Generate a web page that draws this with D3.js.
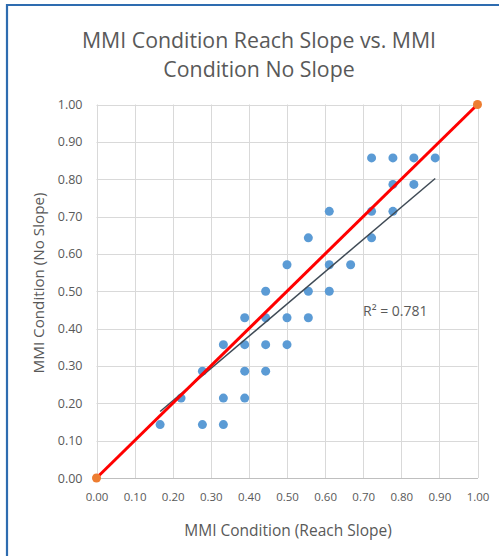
<!DOCTYPE html>
<html>
<head>
<meta charset="utf-8">
<script src="https://cdn.jsdelivr.net/npm/d3@7/dist/d3.min.js"></script>
<style>
  html, body { margin: 0; padding: 0; background: #ffffff; }
  svg { display: block; }
  text { font-family: "Open Sans", "Noto Sans", sans-serif; }
</style>
</head>
<body>
<svg id="chart" width="499" height="556"></svg>
<script>
// ---- Data ----
const titleLines = ["MMI Condition Reach Slope vs. MMI", "Condition No Slope"];
const xAxisTitle = "MMI Condition (Reach Slope)";
const yAxisTitle = "MMI Condition (No Slope)";
const r2Label = "R\u00B2 = 0.781";

const tickValues = [0.0, 0.1, 0.2, 0.3, 0.4, 0.5, 0.6, 0.7, 0.8, 0.9, 1.0];

// MMI Condition (Reach Slope)
const reachSlope = [0.167, 0.222, 0.278, 0.278, 0.333, 0.333, 0.333, 0.389, 0.389, 0.389, 0.389,
  0.444, 0.444, 0.444, 0.444, 0.500, 0.500, 0.500, 0.556, 0.556, 0.556, 0.611, 0.611, 0.611,
  0.667, 0.722, 0.722, 0.722, 0.778, 0.778, 0.778, 0.833, 0.833, 0.889];
// MMI Condition (No Slope)
const noSlope = [0.143, 0.214, 0.286, 0.143, 0.357, 0.214, 0.143, 0.429, 0.357, 0.286, 0.214,
  0.500, 0.429, 0.357, 0.286, 0.571, 0.429, 0.357, 0.643, 0.500, 0.429, 0.714, 0.571, 0.500,
  0.571, 0.857, 0.714, 0.643, 0.857, 0.786, 0.714, 0.857, 0.786, 0.857];

// Linear trendline endpoints (as drawn in the reference)
const trendX = [0.167, 0.889];
const trendY = [0.178, 0.802];

// 1:1 reference series
const refX = [0, 1];
const refY = [0, 1];

// ---- Chart ----
const svg = d3.select("#chart");
const plot = { left: 96.5, right: 477.5, top: 104.5, bottom: 478 };

const x = d3.scaleLinear().domain([0, 1]).range([plot.left, plot.right]);
const y = d3.scaleLinear().domain([0, 1]).range([plot.bottom, plot.top]);

const textColor = "#595959";

// Frame (blue border)
svg.append("path")
  .attr("d", `M7,556 L7,5 L499,5`)
  .attr("fill", "none")
  .attr("stroke", "#2E6CB0")
  .attr("stroke-width", 2.2);

// Title
svg.append("text")
  .attr("x", 259).attr("y", 48)
  .attr("text-anchor", "middle")
  .attr("font-size", 21.3)
  .attr("fill", textColor)
  .selectAll("tspan").data(titleLines).join("tspan")
  .attr("x", 259)
  .attr("dy", (d, i) => i === 0 ? 0 : 28.5)
  .text(d => d);

// Gridlines
const grid = svg.append("g").attr("class", "grid");
grid.selectAll("line.h").data(tickValues).join("line")
  .attr("class", "h")
  .attr("x1", plot.left).attr("x2", plot.right)
  .attr("y1", d => Math.round(y(d)) + 0.5).attr("y2", d => Math.round(y(d)) + 0.5)
  .attr("stroke", "#d9d9d9").attr("stroke-width", 1);
grid.selectAll("line.v").data(tickValues).join("line")
  .attr("class", "v")
  .attr("y1", plot.top).attr("y2", plot.bottom)
  .attr("x1", d => Math.round(x(d)) + 0.5).attr("x2", d => Math.round(x(d)) + 0.5)
  .attr("stroke", "#d9d9d9").attr("stroke-width", 1);

// Axes (tick labels via d3 axes)
const xAxis = d3.axisBottom(x).tickValues(tickValues).tickFormat(d3.format(".2f")).tickSize(0).tickPadding(15);
const yAxis = d3.axisLeft(y).tickValues(tickValues).tickFormat(d3.format(".2f")).tickSize(0).tickPadding(14);

const gx = svg.append("g").attr("transform", `translate(0,${plot.bottom})`).call(xAxis);
gx.select(".domain").attr("stroke", "#bfbfbf").attr("stroke-width", 1);
gx.selectAll("text").attr("fill", textColor).attr("font-size", 11.5).attr("font-family", "Open Sans, sans-serif");

const gy = svg.append("g").attr("transform", `translate(${plot.left},0)`).call(yAxis);
gy.select(".domain").remove();
gy.selectAll("text").attr("fill", textColor).attr("font-size", 12.5).attr("font-family", "Open Sans, sans-serif");

// Axis titles
svg.append("text")
  .attr("x", 288).attr("y", 536)
  .attr("text-anchor", "middle")
  .attr("font-size", 15.5)
  .attr("fill", textColor)
  .text(xAxisTitle);

svg.append("text")
  .attr("transform", `translate(44,283) rotate(-90)`)
  .attr("text-anchor", "middle")
  .attr("font-size", 15.2)
  .attr("fill", textColor)
  .text(yAxisTitle);

// Scatter points
const pts = reachSlope.map((v, i) => ({ x: v, y: noSlope[i] }));
svg.append("g").selectAll("circle").data(pts).join("circle")
  .attr("cx", d => x(d.x)).attr("cy", d => y(d.y))
  .attr("r", 4.5)
  .attr("fill", "#5B9BD5");

// Linear trendline
const trendPts = trendX.map((v, i) => ({ x: v, y: trendY[i] }));
svg.append("path")
  .datum(trendPts)
  .attr("d", d3.line().x(d => x(d.x)).y(d => y(d.y)))
  .attr("fill", "none")
  .attr("stroke", "#3F4A55").attr("stroke-width", 1.5);

// 1:1 red line with orange endpoints
const refPts = refX.map((v, i) => ({ x: v, y: refY[i] }));
svg.append("path")
  .datum(refPts)
  .attr("d", d3.line().x(d => x(d.x)).y(d => y(d.y)))
  .attr("fill", "none")
  .attr("stroke", "#FF0000")
  .attr("stroke-width", 3);
svg.append("g").selectAll("circle").data(refPts).join("circle")
  .attr("cx", d => x(d.x)).attr("cy", d => y(d.y))
  .attr("r", 4.5)
  .attr("fill", "#ED7D31");

// R² label
svg.append("text")
  .attr("x", 363).attr("y", 316)
  .attr("font-size", 14)
  .attr("fill", textColor)
  .text(r2Label);
</script>
</body>
</html>
